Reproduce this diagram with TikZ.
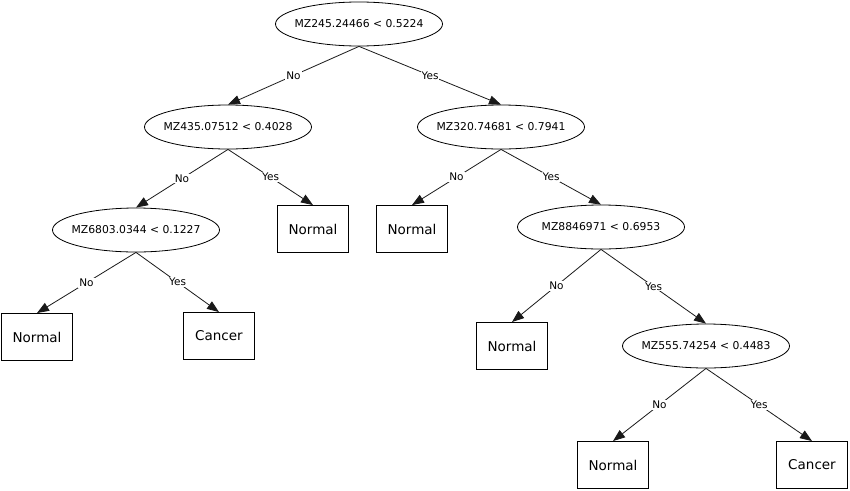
\documentclass[tikz,border=0pt]{standalone}
\usepackage{fontspec}
\setmainfont{DejaVu Sans}
\usetikzlibrary{arrows.meta,shapes.geometric}
% fixed-width text box so every test ellipse gets the same size
\newcommand\splitrule[1]{\makebox[100pt][c]{#1}}
\begin{document}
\begin{tikzpicture}[x=1pt,y=-1pt,
  test/.style={ellipse,draw=black,fill=white,line width=0.8pt,
    minimum width=167pt,minimum height=44pt,inner sep=0pt,
    font=\fontsize{10.8}{12}\selectfont},
  leaf/.style={rectangle,draw=black,fill=white,line width=0.9pt,
    minimum width=71pt,minimum height=47pt,inner sep=0pt,
    font=\fontsize{13.5}{15}\selectfont},
  branch/.style={draw=black!90,line width=0.8pt,
    -{Triangle[length=12pt,width=9pt]}},
  answer/.style={fill=white,inner sep=1pt,
    font=\fontsize{10.5}{12}\selectfont}]
\useasboundingbox (0,0) rectangle (850,490);

% decision nodes
\node[test] (r)   at (359,24)  {\splitrule{MZ245.24466 < 0.5224}};
\node[test] (a)   at (228,127) {\splitrule{MZ435.07512 < 0.4028}};
\node[test] (b)   at (501,127) {\splitrule{MZ320.74681 < 0.7941}};
\node[test] (a1)  at (136,230) {\splitrule{MZ6803.0344 < 0.1227}};
\node[test] (b2)  at (601,227) {\splitrule{MZ8846971 < 0.6953}};
\node[test] (b22) at (706,346) {\splitrule{MZ555.74254 < 0.4483}};

% class leaves
\node[leaf] (l1) at (37,337)  {Normal};
\node[leaf] (l2) at (219,336) {Cancer};
\node[leaf] (l3) at (313,229) {Normal};
\node[leaf] (l4) at (412,229) {Normal};
\node[leaf] (l5) at (512,346) {Normal};
\node[leaf] (l6) at (613,465) {Normal};
\node[leaf] (l7) at (812,465) {Cancer};

% branches
\draw[branch] (r.south)   -- node[answer] {No}  (a.north);
\draw[branch] (r.south)   -- node[answer] {Yes} (b.north);
\draw[branch] (a.south)   -- node[answer] {No}  (a1.north);
\draw[branch] (a.south)   -- node[answer] {Yes} (l3.north);
\draw[branch] (b.south)   -- node[answer] {No}  (l4.north);
\draw[branch] (b.south)   -- node[answer] {Yes} (b2.north);
\draw[branch] (a1.south)  -- node[answer] {No}  (l1.north);
\draw[branch] (a1.south)  -- node[answer] {Yes} (l2.north);
\draw[branch] (b2.south)  -- node[answer] {No}  (l5.north);
\draw[branch] (b2.south)  -- node[answer] {Yes} (b22.north);
\draw[branch] (b22.south) -- node[answer] {No}  (l6.north);
\draw[branch] (b22.south) -- node[answer] {Yes} (l7.north);
\end{tikzpicture}
\end{document}
